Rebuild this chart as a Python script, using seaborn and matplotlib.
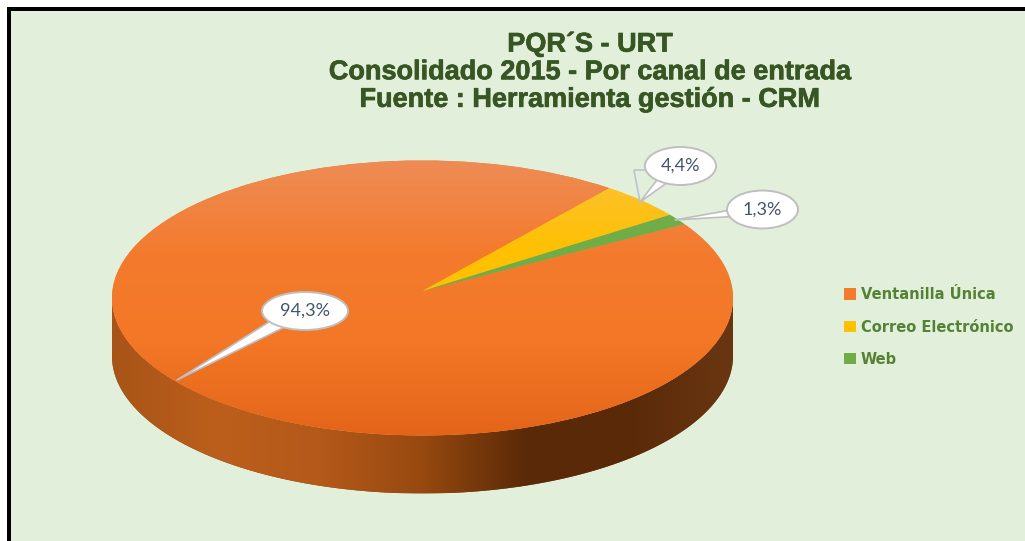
import numpy as np
import matplotlib
matplotlib.use('Agg')
import matplotlib.pyplot as plt
import matplotlib.patheffects as pe
import seaborn as sns
from matplotlib.patches import PathPatch, Patch, Rectangle
from matplotlib.path import Path

###--------------------------------------------------###
# Datos
canales = ['Ventanilla Única', 'Correo Electrónico', 'Web']
porcentajes = [94.3, 4.4, 1.3]
colores = ['#F47A2C', '#FFC000', '#70AD47']
titulo = "PQR´S - URT\nConsolidado 2015 - Por canal de entrada\nFuente : Herramienta gestión - CRM"

# Geometria en pixeles de la imagen
W, H = 1025, 541
cx, cy, rx, ry = 422.5, 298, 310.5, 137.5
prof = 58 / ry
sube_centro = 7 / ry


def px(x, y):
    return (x - cx) / rx, (cy - y) / ry


sns.set_theme(style='white')
plt.rcParams['font.family'] = ['Liberation Sans', 'DejaVu Sans']

fig = plt.figure(figsize=(W / 100, H / 100), dpi=100, facecolor='white')

# Fondo y borde negro (arriba e izquierda)
fig.add_artist(Rectangle((7 / W, 0), 1, 1 - 7 / H, transform=fig.transFigure, fc='black', ec='none', zorder=-2))
fig.add_artist(Rectangle((11 / W, 0), 1, 1 - 11 / H, transform=fig.transFigure, fc='#E2EFDA', ec='none', zorder=-1))

ax = fig.add_axes([0, 0, 1, 1])
ax.patch.set_visible(False)

wedges, _ = ax.pie(porcentajes, colors=colores, startangle=32.5, counterclock=False, radius=1)
ax.set_aspect('auto')

# Cara lateral, solo la mitad de adelante
t = np.radians(np.linspace(180, 360, 200))
x_lat = np.r_[np.cos(t), np.cos(t[::-1])]
y_lat = np.r_[np.sin(t) - prof, np.sin(t[::-1])]
lateral = PathPatch(Path(np.c_[x_lat, y_lat]), fc='#8A4310', ec='none', zorder=1)
ax.add_patch(lateral)
cmap_lat = sns.blend_palette(['#A85418', '#BC5F1C', '#B4591A', '#97490F', '#5A2A08', '#5A2A08', '#6A3612'],
                             n_colors=256, as_cmap=True)
img = ax.imshow(np.linspace(0, 1, 256).reshape(1, -1), cmap=cmap_lat, extent=(-1, 1, -1 - prof, 1),
                aspect='auto', zorder=1.1)
img.set_clip_path(lateral)

# Cara de arriba, con el centro un poco subido por la perspectiva
gradientes = [['#EE8C55', '#F47B2E', '#F37726', '#E4651A'],
              ['#FBC23A', '#FFC000', '#FFC000', '#FFC000'],
              ['#70AD47', '#70AD47', '#70AD47', '#70AD47']]
for w, grad, color in zip(wedges, gradientes, colores):
    w.set_visible(False)
    p = w.get_path().transformed(w.get_patch_transform())
    v = p.vertices.copy()
    v[np.hypot(v[:, 0], v[:, 1]) < 1e-6, 1] += sube_centro
    parche = PathPatch(Path(v, p.codes), fc=grad[1], ec='none', zorder=2)
    ax.add_patch(parche)
    cmap = sns.blend_palette(grad, n_colors=256, as_cmap=True)
    img = ax.imshow(np.linspace(0, 1, 256).reshape(-1, 1), cmap=cmap, extent=(-1, 1, -1, 1),
                    aspect='auto', origin='upper', zorder=2.1)
    img.set_clip_path(parche)

ax.set_xlim(-cx / rx, (W - cx) / rx)
ax.set_ylim((cy - H) / ry, cy / ry)
ax.axis('off')

# Globos con los porcentajes
texto_globos = [f"{v:.1f}".replace('.', ',') + '%' for v in porcentajes]
centros = [(305, 311), (680.5, 166), (762.5, 209.5)]
puntas = [(177, 380), (640, 202), (675, 220)]
relpos = [(0.19, 0.12), (0.25, 0.09), (0.02, 0.36)]
anchos = [0.75, 0.7, 0.45]

# Linea guia del globo de 4,4%
guia_x, guia_y = zip(*[(645, 170), (634, 170), (640, 202)])
ax.plot(*px(np.array(guia_x), np.array(guia_y)), color='#B8C4D6', lw=1.2, zorder=3)

for txt, c, pta, rp, ancho in zip(texto_globos, centros, puntas, relpos, anchos):
    ax.annotate(txt, xy=px(*pta), xytext=px(*c), ha='center', va='center', fontsize=13,
                family='Lato', color='#44546A', zorder=4,
                bbox=dict(boxstyle='ellipse,pad=0.3', fc='white', ec='#BFBFBF', lw=1.4),
                arrowprops=dict(arrowstyle=f'wedge,tail_width={ancho},shrink_factor=0.5', fc='white',
                                ec='#BFBFBF', lw=1.2, relpos=rp, shrinkA=0, shrinkB=0, patchA=None))

# Titulo
fig.text(590 / W, 1 - 72 / H, titulo, ha='center', va='center', color='#375623', fontsize=19.5,
         fontweight='bold', linespacing=1.08, family='Liberation Sans',
         path_effects=[pe.withStroke(linewidth=0.5, foreground='#375623')])

# Leyenda
handles = [Patch(fc=c, ec='none') for c in colores]
leg = ax.legend(handles, canales, loc='center left', bbox_to_anchor=(844 / W, 1 - 327 / H),
                bbox_transform=fig.transFigure, frameon=False, handlelength=0.85, handleheight=0.85,
                handletextpad=0.3, labelspacing=1.18, borderpad=0, borderaxespad=0,
                labelcolor='#548235', prop={'family': 'DejaVu Sans', 'weight': 'bold', 'size': 10.5})

fig.savefig('out.png', dpi=100, facecolor='white')
